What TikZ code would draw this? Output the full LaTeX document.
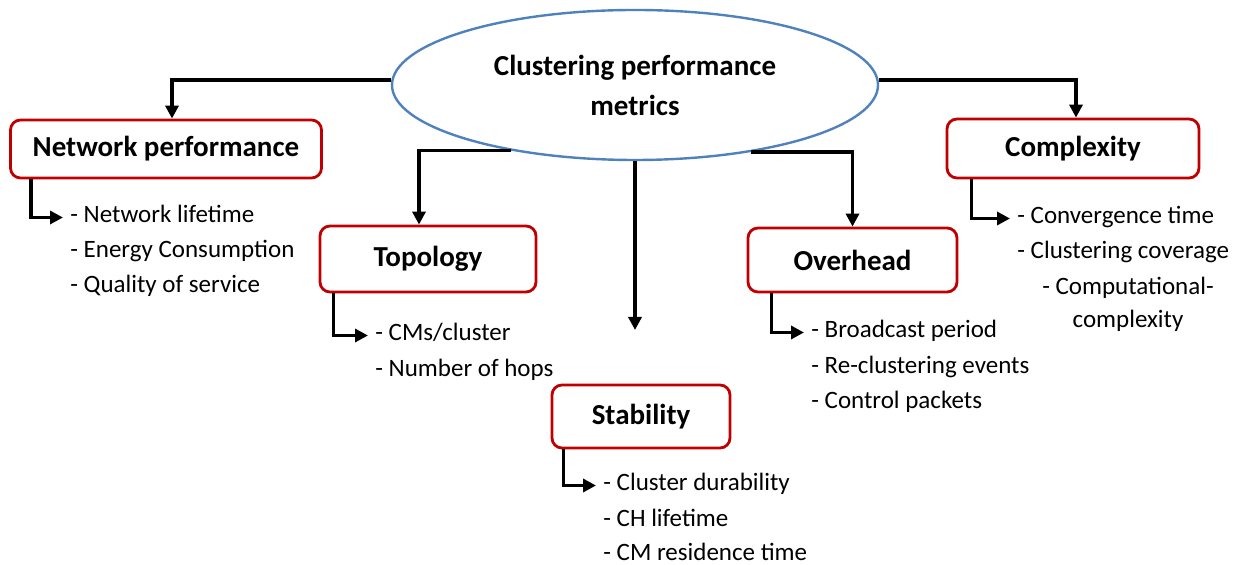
\documentclass[tikz,border=0pt]{standalone}
\usepackage{fontspec}
\setmainfont{Carlito}
\usetikzlibrary{shapes.geometric,arrows.meta}
\definecolor{boxred}{RGB}{192,0,0}
\definecolor{ellblue}{RGB}{79,129,189}
\tikzstyle{metric}=[draw=boxred,line width=1.4pt,rounded corners=5pt,fill=white,font=\fontsize{14.5}{17}\selectfont\bfseries]
\tikzstyle{item}=[anchor=base west,inner xsep=3.5pt,inner ysep=0.5pt,text height=7pt,text depth=1.5pt,font=\fontsize{12.5}{15}\selectfont]
\tikzstyle{conn}=[line width=1.7pt,-{Triangle[length=6.5pt,width=6.5pt]}]

\begin{document}
\begin{tikzpicture}[x=0.5pt,y=-0.5pt]
\useasboundingbox (0,0) rectangle (1240,565);
\node[ellipse,draw=ellblue,line width=1.2pt,minimum width=243pt,minimum height=75pt,align=center,font=\fontsize{14.5}{20}\selectfont\bfseries] at (635,85) (root) {Clustering performance\\metrics};
\node[metric,minimum width=155.5pt,minimum height=29pt] at (166,149) (netperf) {Network performance};
\node[metric,minimum width=108pt,minimum height=33pt] at (428,259) (topology) {Topology};
\node[metric,minimum width=89pt,minimum height=31.5pt] at (641,416.5) (stability) {Stability};
\node[metric,minimum width=104.5pt,minimum height=32pt] at (852.5,260) (overhead) {Overhead};
\node[metric,minimum width=126pt,minimum height=29.5pt] at (1073,148.5) (complexity) {Complexity};
\coordinate (stabtip) at (635,330);
% metric lists
\node[item] at (63,223) (nl1) {- Network lifetime};
\node[item] at (63,258) (nl2) {- Energy Consumption};
\node[item] at (63,293) (nl3) {- Quality of service};
\node[item] at (368,341) (tp1) {- CMs/cluster};
\node[item] at (368,377) (tp2) {- Number of hops};
\node[item] at (596,491) (st1) {- Cluster durability};
\node[item] at (596,526) (st2) {- CH lifetime};
\node[item] at (596,560) (st3) {- CM residence time};
\node[item] at (804,338) (ov1) {- Broadcast period};
\node[item] at (804,373.5) (ov2) {- Re-clustering events};
\node[item] at (804,409) (ov3) {- Control packets};
\node[item] at (1010,224) (cx1) {- Convergence time};
\node[item] at (1010,259) (cx2) {- Clustering coverage};
\node[item,anchor=base] at (1128,295) (cx3) {- Computational-};
\node[item,anchor=base] at (1128,328) (cx4) {complexity};
\draw[conn] ([yshift=2.5pt]root.west) -| ([xshift=3pt]netperf.north);
\draw[conn] (root.208.6) -| ([xshift=-4.5pt]topology.north);
\draw[conn] (root.south) -- (stabtip);
\draw[conn] (root.-30) -| (overhead.north);
\draw[conn] ([yshift=2.5pt]root.east) -| ([xshift=1.5pt]complexity.north);
\draw[conn] ([xshift=11pt]netperf.south west) |- (nl1.west);
\draw[conn] ([xshift=7.5pt]topology.south west) |- (tp1.west);
\draw[conn] ([xshift=6.5pt]stability.south west) |- (st1.west);
\draw[conn] ([xshift=12.5pt]overhead.south west) |- (ov1.west);
\draw[conn] ([xshift=13pt]complexity.south west) |- (cx1.west);
\end{tikzpicture}
\end{document}
